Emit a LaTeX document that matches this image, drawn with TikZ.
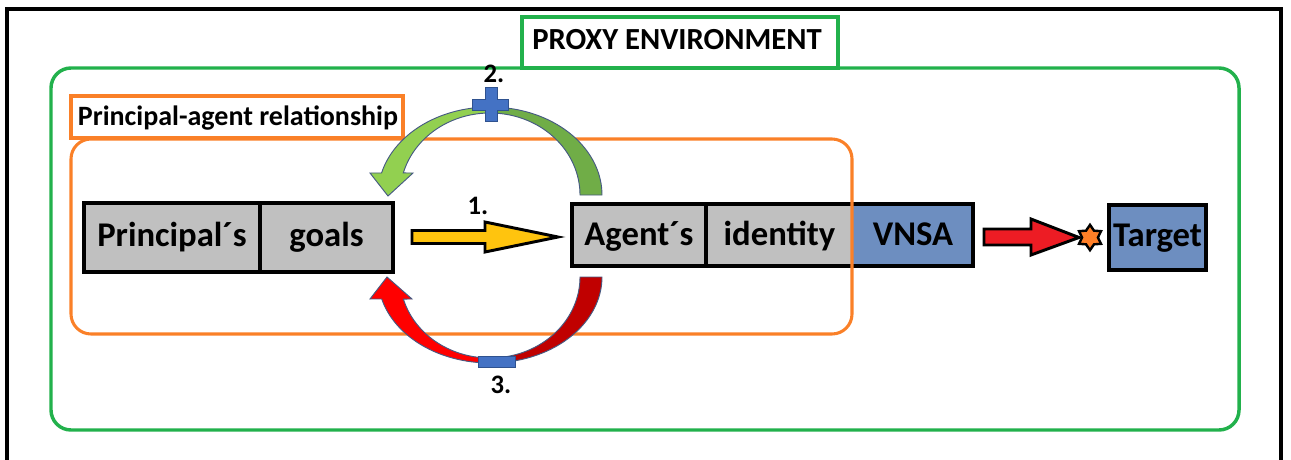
\documentclass[tikz,border=0pt]{standalone}
\usepackage{fontspec}
\setmainfont{Carlito}
\usetikzlibrary{calc,shapes.geometric}

\definecolor{envgreen}{RGB}{34,177,76}
\definecolor{relorange}{RGB}{250,128,40}
\definecolor{cellgray}{RGB}{192,192,192}
\definecolor{cellblue}{RGB}{109,142,192}
\definecolor{arrowgold}{RGB}{255,196,14}
\definecolor{arrowred}{RGB}{237,28,36}
\definecolor{stargold}{RGB}{255,127,39}
\definecolor{gdark}{RGB}{112,173,71}
\definecolor{glight}{RGB}{146,208,80}
\definecolor{rdark}{RGB}{192,0,0}
\definecolor{rlight}{RGB}{255,0,0}
\definecolor{signblue}{RGB}{68,114,196}
\definecolor{signedge}{RGB}{47,82,143}
\definecolor{curveedge}{RGB}{70,90,130}

\begin{document}
\begin{tikzpicture}[x=0.75pt,y=-0.75pt,
  frame/.style={line width=3pt,black},
  cellbase/.style={rectangle,inner sep=0pt,outer sep=0pt,
    font=\bfseries\fontsize{26}{30}\selectfont},
  rowA/.style={cellbase,minimum height=51.75pt,text height=17pt,text depth=4pt},
  rowB/.style={cellbase,minimum height=46.5pt,text height=18pt,text depth=3pt},
  boxline/.style={line width=3pt,black},
  blockarrow/.style={line width=2.2pt,black,line join=miter},
  curvepart/.style={draw=curveedge,line width=0.7pt},
  sign/.style={fill=signblue,draw=signedge,line width=0.6pt},
  stepnum/.style={font=\bfseries\fontsize{20}{24}\selectfont,inner sep=0pt},
  title/.style={font=\bfseries\fontsize{23}{27}\selectfont,inner sep=0pt},
  sublabel/.style={font=\bfseries\fontsize{21}{25}\selectfont,inner sep=0pt}
]
\useasboundingbox (0,0) rectangle (1291,460);

% outer frame, open at the bottom
\draw[frame] (6.5,460) -- (6.5,9) -- (1281,9) -- (1281,460);

% proxy environment
\draw[envgreen,line width=2.6pt,rounded corners=15pt] (51,68) rectangle (1239,430);
\draw[envgreen,line width=2.6pt,fill=white] (522,17) rectangle (838,68);
\node[title] (envtitle) at (677,40) {PROXY ENVIRONMENT};

% principal box
\node[rowA,fill=cellgray,minimum width=132pt] (principal) at (172,237.5) {Principal´s};
\node[rowA,fill=cellgray,minimum width=99.75pt] (goals) at (326.5,237.5) {goals};
\draw[boxline] (principal.north west) rectangle (goals.south east);
\draw[boxline] (principal.north east) -- (principal.south east);

% agent box
\node[rowB,fill=cellgray,minimum width=100.5pt] (agent) at (639,235) {Agent´s};
\node[rowB,fill=cellgray,minimum width=110.25pt] (identity) at (779.5,235) {identity};
\node[rowB,fill=cellblue,minimum width=90pt] (vnsa) at (913,235) {VNSA};
\draw[boxline] (agent.north west) rectangle (vnsa.south east);
\draw[boxline] (agent.north east) -- (agent.south east);

% target box
\node[rowA,fill=cellblue,minimum width=72.75pt,minimum height=48.75pt,
  text height=17pt,text depth=3pt] (target) at (1157.5,237.5) {Target};
\draw[boxline] (target.north west) rectangle (target.south east);

% principal-agent relationship frame
\draw[relorange,line width=2.3pt,rounded corners=15pt] (71,139) rectangle (852,334);
\draw[relorange,line width=2.3pt,fill=white] (71,96) rectangle (403,138);
\node[sublabel] (reltitle) at (238,118) {Principal-agent relationship};

% arrow 1: principal towards agent
\coordinate (a1s) at ($(goals.east)+(19,-0.5)$);
\coordinate (a1t) at ($(agent.west)+(-14,2)$);
\draw[blockarrow,fill=arrowgold]
  ($(a1s)+(0,-6.5)$) -- ($(a1s)+(73,-6.5)$) -- ($(a1s)+(73,-15)$) -- (a1t)
  -- ($(a1s)+(73,15)$) -- ($(a1s)+(73,6.5)$) -- ($(a1s)+(0,6.5)$) -- cycle;
\node[stepnum] (n1) at (478,206) {1.};

% VNSA towards target
\coordinate (a4s) at ($(vnsa.east)+(11,2)$);
\coordinate (a4t) at ($(target.west)+(-30,0)$);
\draw[blockarrow,fill=arrowred]
  ($(a4s)+(0,-8)$) -- ($(a4s)+(47,-8)$) -- ($(a4s)+(47,-18)$) -- (a4t)
  -- ($(a4s)+(47,18)$) -- ($(a4s)+(47,8)$) -- ($(a4s)+(0,8)$) -- cycle;
\node[star,star points=6,star point ratio=1.6,fill=stargold,draw=black,
  line width=1.8pt,minimum size=19pt,inner sep=0pt] (impact) at (1090,237.5) {};

% arrow 2: positive feedback over the top
\path[curvepart,fill=gdark]
  plot[domain=0:-90,samples=40] ({490+112*cos(\x)},{195+88*sin(\x)})
  -- plot[domain=-90:0,samples=40] ({490+90*cos(\x)},{195+82*sin(\x)}) -- cycle;
\path[curvepart,fill=glight]
  plot[domain=-90:-165.5,samples=40] ({490+112*cos(\x)},{195+88*sin(\x)})
  -- (370,173) -- (388,196) -- (413,173)
  -- plot[domain=-164.4:-90,samples=40] ({490+90*cos(\x)},{195+82*sin(\x)}) -- cycle;
\draw[sign] (485,87) -- (497,87) -- (497,99) -- (508,99) -- (508,110) -- (497,110)
  -- (497,121) -- (485,121) -- (485,110) -- (472,110) -- (472,99) -- (485,99) -- cycle;
\node[stepnum] (n2) at (494,74) {2.};

% arrow 3: negative feedback underneath
\path[curvepart,fill=rdark]
  plot[domain=0:90,samples=40] ({490+112*cos(\x)},{277+86*sin(\x)})
  -- plot[domain=90:0,samples=40] ({490+90*cos(\x)},{277+81*sin(\x)}) -- cycle;
\path[curvepart,fill=rlight]
  plot[domain=90:165.2,samples=40] ({490+112*cos(\x)},{277+86*sin(\x)})
  -- (370,299) -- (387,277) -- (412,299)
  -- plot[domain=164.2:90,samples=40] ({490+90*cos(\x)},{277+81*sin(\x)}) -- cycle;
\draw[sign] (478,356) rectangle (515,367);
\node[stepnum] (n3) at (501,385) {3.};
\end{tikzpicture}
\end{document}
